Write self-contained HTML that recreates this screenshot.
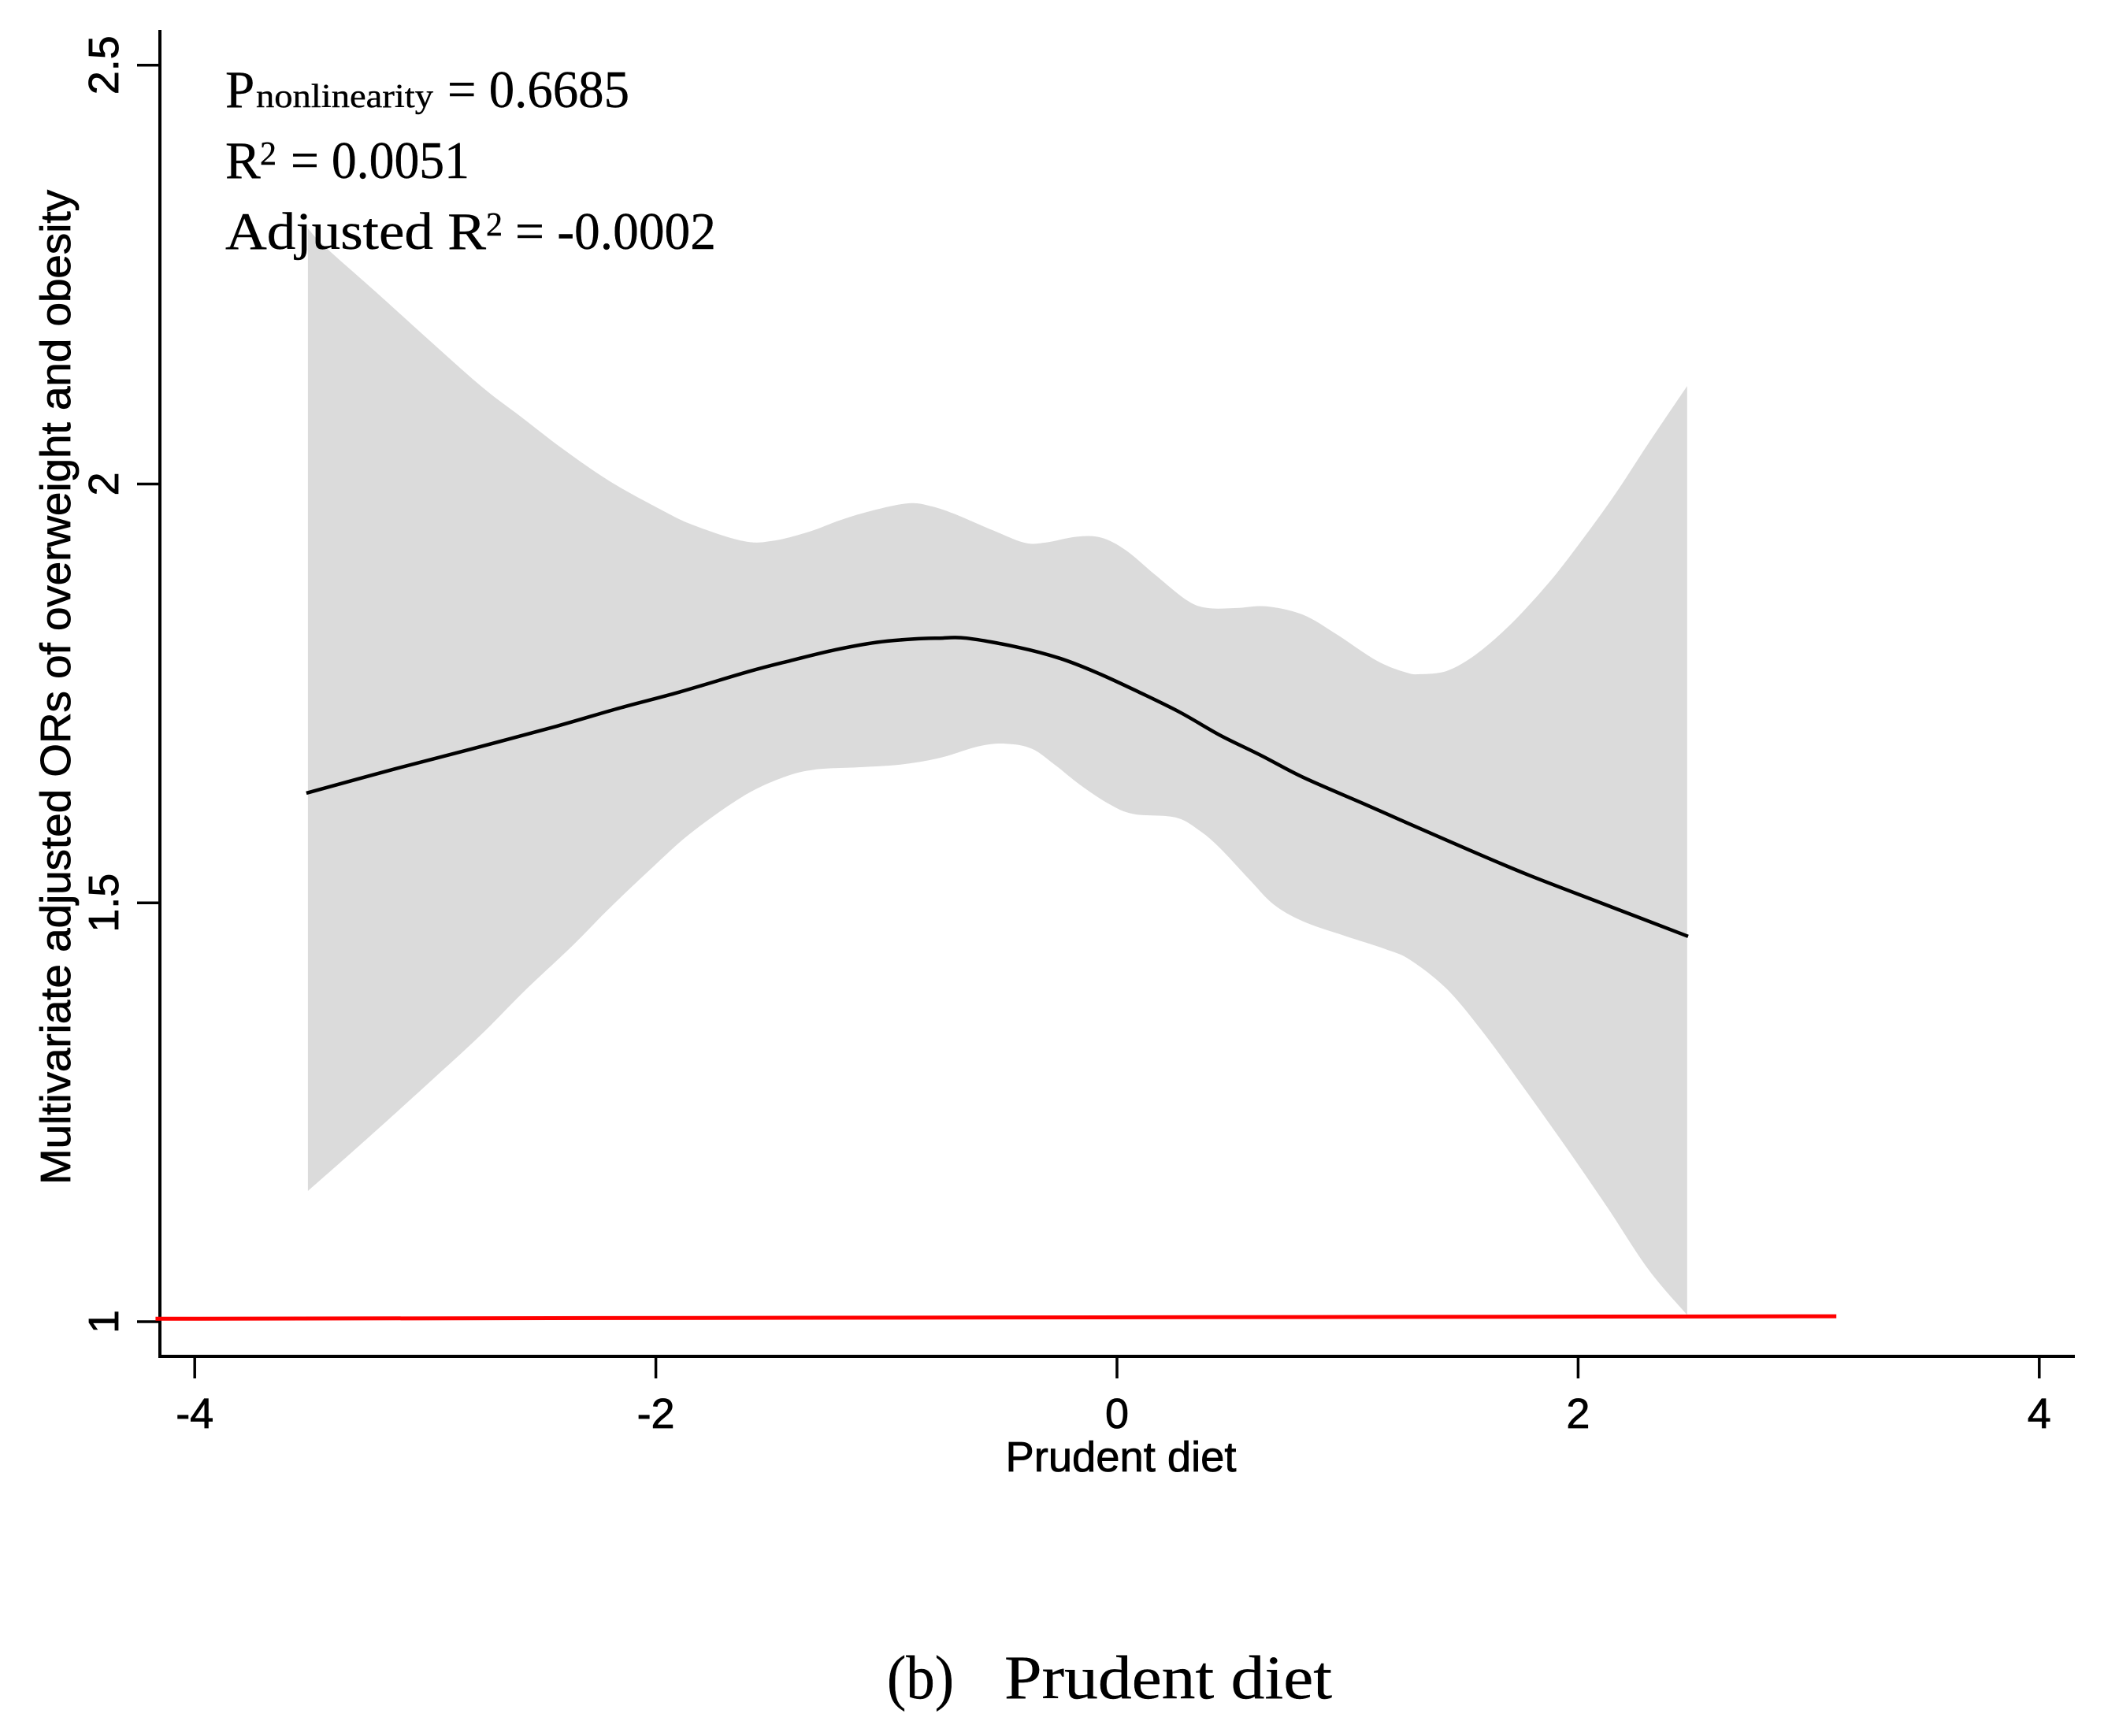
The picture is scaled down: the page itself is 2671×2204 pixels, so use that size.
<!DOCTYPE html>
<html lang="en">
<head>
<meta charset="utf-8">
<title>Multivariate adjusted ORs of overweight and obesity by prudent diet</title>
<style>
html,body{margin:0;padding:0;background:#fff;}
#chart{display:block;position:absolute;left:0;top:0;}
.sans{font-family:"Liberation Sans",Arial,sans-serif;fill:#000;stroke:#000;stroke-width:0.8px;}
.serif{font-family:"Liberation Serif","Times New Roman",serif;fill:#000;stroke:#000;stroke-width:0.4px;}
</style>
</head>
<body>
<svg id="chart" xmlns="http://www.w3.org/2000/svg" width="2671" height="2204" viewBox="0 0 2671 2204">
  <rect x="0" y="0" width="2671" height="2204" fill="#ffffff"/>
  <g id="marks"></g>
  <g id="axes"></g>

  <text class="sans" transform="translate(89,872.5) rotate(-90)" text-anchor="middle" font-size="54" textLength="1263" lengthAdjust="spacingAndGlyphs">Multivariate adjusted ORs of overweight and obesity</text>
  <text class="sans" x="1423" y="1868" text-anchor="middle" font-size="54" textLength="293" lengthAdjust="spacingAndGlyphs">Prudent diet</text>

  <g>
    <text class="serif" x="286" y="136" font-size="67">P</text>
    <text class="serif" x="325" y="136" font-size="42" textLength="225" lengthAdjust="spacingAndGlyphs">nonlinearity</text>
    <text class="serif" x="568" y="136" font-size="67" textLength="231" lengthAdjust="spacingAndGlyphs">= 0.6685</text>

    <text class="serif" x="286" y="226" font-size="67">R</text>
    <text class="serif" x="330" y="209" font-size="42">2</text>
    <text class="serif" x="369" y="226" font-size="67" textLength="227" lengthAdjust="spacingAndGlyphs">= 0.0051</text>

    <text class="serif" x="286" y="316" font-size="67" textLength="331" lengthAdjust="spacingAndGlyphs">Adjusted R</text>
    <text class="serif" x="617" y="299" font-size="42">2</text>
    <text class="serif" x="654" y="316" font-size="67" textLength="255" lengthAdjust="spacingAndGlyphs">= -0.0002</text>
  </g>

  <g>
    <text class="serif" x="1126" y="2156" font-size="78" textLength="85" lengthAdjust="spacingAndGlyphs">(b)</text>
    <text class="serif" x="1275" y="2156" font-size="78" textLength="416" lengthAdjust="spacingAndGlyphs">Prudent diet</text>
  </g>
</svg>
<script>
var xTicks = [-4, -2, 0, 2, 4];
var yTicks = [1, 1.5, 2, 2.5];
var xTickLabels = ['-4', '-2', '0', '2', '4'];
var yTickLabels = ['1', '1.5', '2', '2.5'];

var upperX = [-3.509,-3.434,-3.205,-2.976,-2.750,-2.579,-2.409,-2.204,-1.975,-1.838,-1.623,-1.496,-1.336,-1.199,-1.052,-0.905,-0.813,-0.711,-0.540,-0.403,-0.311,-0.178,-0.068,0.038,0.164,0.304,0.393,0.519,0.646,0.806,0.950,1.127,1.254,1.315,1.431,1.554,1.698,1.841,1.951,2.146,2.306,2.473];
var upperOR = [2.305,2.283,2.227,2.170,2.115,2.079,2.043,2.004,1.969,1.951,1.932,1.932,1.943,1.957,1.969,1.977,1.974,1.965,1.945,1.930,1.930,1.937,1.936,1.921,1.892,1.861,1.852,1.852,1.854,1.844,1.821,1.789,1.775,1.773,1.777,1.796,1.830,1.872,1.909,1.982,2.049,2.117];

var lowerX = [-3.509,-3.266,-2.989,-2.764,-2.569,-2.361,-2.207,-2.012,-1.845,-1.623,-1.455,-1.315,-1.110,-0.940,-0.769,-0.598,-0.482,-0.369,-0.266,-0.161,-0.034,0.072,0.253,0.359,0.448,0.574,0.680,0.806,0.984,1.162,1.271,1.431,1.592,1.770,1.951,2.128,2.306,2.473];
var lowerOR = [1.156,1.215,1.284,1.341,1.395,1.449,1.492,1.543,1.584,1.627,1.649,1.659,1.662,1.665,1.673,1.687,1.690,1.684,1.664,1.641,1.618,1.606,1.602,1.586,1.565,1.528,1.498,1.478,1.461,1.445,1.432,1.397,1.344,1.277,1.207,1.136,1.062,1.008];

var fitX = [-3.516,-3.130,-2.795,-2.429,-2.152,-1.906,-1.599,-1.418,-1.223,-1.042,-0.881,-0.769,-0.653,-0.427,-0.249,-0.089,0.092,0.270,0.448,0.625,0.806,1.073,1.254,1.520,1.787,2.146,2.477];
var fitOR = [1.631,1.660,1.684,1.711,1.733,1.751,1.776,1.789,1.802,1.811,1.815,1.816,1.816,1.805,1.792,1.775,1.752,1.728,1.700,1.676,1.650,1.618,1.596,1.564,1.533,1.495,1.460];

var refX = [-4.17, 3.12];
var refOR = [1.0035, 1.0065];

var SVGNS = 'http://www.w3.org/2000/svg';
function sx(v) { return 1418 + v * 292.7; }
function sy(v) { return 1678 - (v - 1) * 1063.5; }

function smoothSegments(xs, ys) {
  var pts = xs.map(function (x, i) { return [sx(x), sy(ys[i])]; });
  var d = '';
  for (var i = 0; i < pts.length - 1; i++) {
    var p0 = pts[Math.max(i - 1, 0)], p1 = pts[i], p2 = pts[i + 1], p3 = pts[Math.min(i + 2, pts.length - 1)];
    var c1x = p1[0] + (p2[0] - p0[0]) / 6, c1y = p1[1] + (p2[1] - p0[1]) / 6;
    var c2x = p2[0] - (p3[0] - p1[0]) / 6, c2y = p2[1] - (p3[1] - p1[1]) / 6;
    d += 'C' + c1x.toFixed(1) + ' ' + c1y.toFixed(1) + ' ' + c2x.toFixed(1) + ' ' + c2y.toFixed(1) + ' ' + p2[0].toFixed(1) + ' ' + p2[1].toFixed(1);
  }
  return { start: pts[0], end: pts[pts.length - 1], d: d };
}

function reversed(a) { return a.slice().reverse(); }

var marks = document.getElementById('marks');
var axes = document.getElementById('axes');

var up = smoothSegments(upperX, upperOR);
var lo = smoothSegments(reversed(lowerX), reversed(lowerOR));
var band = document.createElementNS(SVGNS, 'path');


band.setAttribute('d', 'M' + up.start[0].toFixed(1) + ' ' + up.start[1].toFixed(1) + up.d + 'L' + lo.start[0].toFixed(1) + ' ' + lo.start[1].toFixed(1) + lo.d + 'Z');
band.setAttribute('fill', '#dbdbdb');
marks.appendChild(band);

var fit = smoothSegments(fitX, fitOR);
var fitLine = document.createElementNS(SVGNS, 'path');


fitLine.setAttribute('d', 'M' + fit.start[0].toFixed(1) + ' ' + fit.start[1].toFixed(1) + fit.d);
fitLine.setAttribute('fill', 'none');
fitLine.setAttribute('stroke', '#000');
fitLine.setAttribute('stroke-width', '4.5');
marks.appendChild(fitLine);

var yAxis = document.createElementNS(SVGNS, 'line');


yAxis.setAttribute('x1', 203);
yAxis.setAttribute('y1', 38);
yAxis.setAttribute('x2', 203);
yAxis.setAttribute('y2', 1724);
yAxis.setAttribute('stroke', '#000');
yAxis.setAttribute('stroke-width', '4');
axes.appendChild(yAxis);

var xAxis = document.createElementNS(SVGNS, 'line');


xAxis.setAttribute('x1', 201);
xAxis.setAttribute('y1', 1722);
xAxis.setAttribute('x2', 2634);
xAxis.setAttribute('y2', 1722);
xAxis.setAttribute('stroke', '#000');
xAxis.setAttribute('stroke-width', '4');
axes.appendChild(xAxis);

xTicks.forEach(function (v, i) {
  var t = document.createElementNS(SVGNS, 'line');
  
  
  t.setAttribute('x1', sx(v));
  t.setAttribute('y1', 1722);
  t.setAttribute('x2', sx(v));
  t.setAttribute('y2', 1750);
  t.setAttribute('stroke', '#000');
  t.setAttribute('stroke-width', '3.5');
  axes.appendChild(t);

  var l = document.createElementNS(SVGNS, 'text');
  
  
  l.setAttribute('class', 'sans');
  l.setAttribute('x', sx(v));
  l.setAttribute('y', 1813);
  l.setAttribute('text-anchor', 'middle');
  l.setAttribute('font-size', '54');
  l.textContent = xTickLabels[i];
  axes.appendChild(l);
});

yTicks.forEach(function (v, i) {
  var t = document.createElementNS(SVGNS, 'line');
  
  
  t.setAttribute('x1', 174);
  t.setAttribute('y1', sy(v));
  t.setAttribute('x2', 203);
  t.setAttribute('y2', sy(v));
  t.setAttribute('stroke', '#000');
  t.setAttribute('stroke-width', '3.5');
  axes.appendChild(t);

  var l = document.createElementNS(SVGNS, 'text');
  
  
  l.setAttribute('class', 'sans');
  l.setAttribute('transform', 'translate(150,' + sy(v) + ') rotate(-90)');
  l.setAttribute('text-anchor', 'middle');
  l.setAttribute('font-size', '54');
  l.textContent = yTickLabels[i];
  axes.appendChild(l);
});

var refLine = document.createElementNS(SVGNS, 'line');


refLine.setAttribute('x1', sx(refX[0]));
refLine.setAttribute('y1', sy(refOR[0]));
refLine.setAttribute('x2', sx(refX[1]));
refLine.setAttribute('y2', sy(refOR[1]));
refLine.setAttribute('stroke', '#ff0000');
refLine.setAttribute('stroke-width', '5');
axes.appendChild(refLine);
</script>
</body>
</html>
